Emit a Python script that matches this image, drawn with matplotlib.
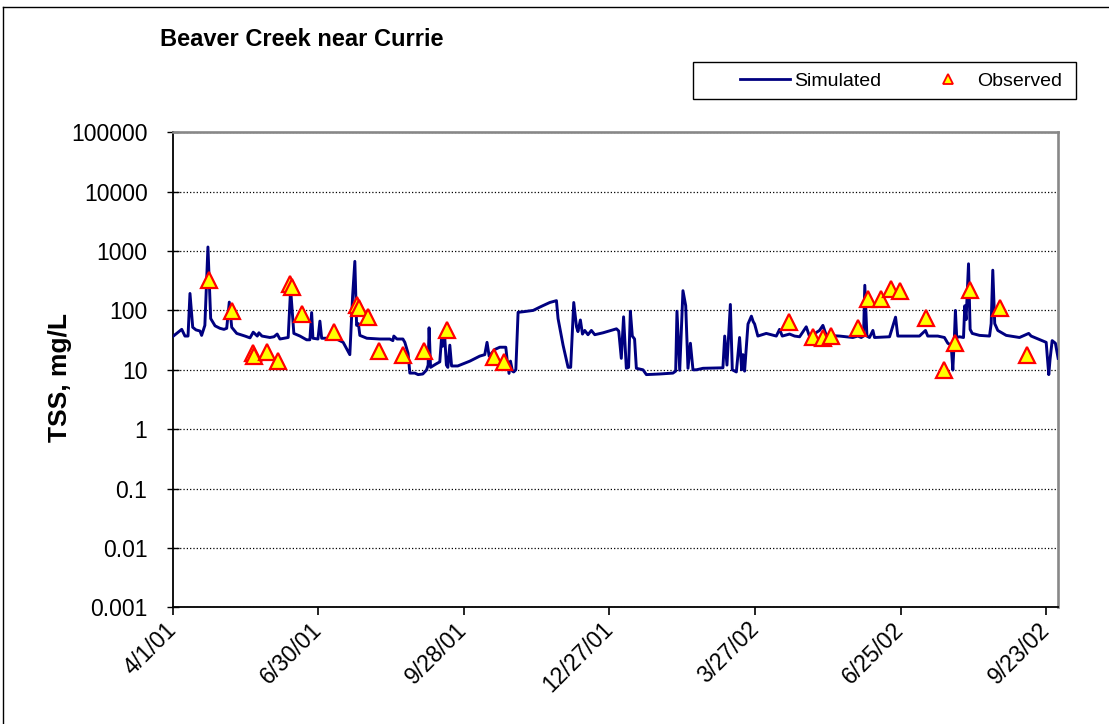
import matplotlib
matplotlib.use("Agg")
import matplotlib.pyplot as plt
from matplotlib.lines import Line2D
from matplotlib.patches import Rectangle
import pandas as pd

plt.rcParams['font.family'] = ['Liberation Sans', 'DejaVu Sans']

start = pd.Timestamp('2001-04-01')
end = pd.Timestamp('2002-09-30')

# simulated TSS (day offset from 4/1/01, mg/L)
sim_days = [0, 5.7, 7.7, 9.6, 10.8, 12.5, 14.5, 17, 18, 20, 21.9, 23.6, 26.3, 29.3, 31.8,
            33.5, 35.1, 36.6, 39.7, 44.8, 47.9, 49.9, 52.4, 53.4, 55.3, 60.2, 62.7, 64.7,
            66.4, 71.5, 73, 75, 78.8, 82.9, 84.9, 86, 86.8, 89.9, 91.1, 92.2, 100.4, 105.5,
            109.6, 111.3, 112.7, 113.8, 114.9, 115.8, 120.1, 128.1, 134.3, 136.2, 136.8,
            138.7, 142.4, 143.6, 145.6, 146.7, 149.8, 151.8, 154.7, 157, 158, 158.6, 159.5,
            162.8, 165.2, 166.3, 167, 168.3, 169.3, 170.2, 171.4, 172.5, 176.3, 183.8,
            189.9, 193, 194.4, 195.7, 199.2, 202.3, 206, 206.8, 208, 208.9, 210.1, 210.9,
            212.2, 213.6, 216.7, 222.9, 228, 233.2, 237.3, 238.3, 241.4, 244.5, 246.1, 248,
            249.7, 250.6, 252.1, 253.4, 254.8, 256.8, 258.9, 261, 266.1, 274.4, 275.8,
            277.4, 278.8, 280.5, 281.9, 283, 284.2, 285.6, 286.7, 290.8, 292.9, 301.1,
            309.3, 311, 311.8, 313.5, 315.5, 317.2, 318.6, 320.1, 321.7, 323.8, 327.9,
            340.2, 341.3, 342.7, 344.8, 346, 348.5, 350.5, 351.8, 352.6, 353.6, 355.7,
            357.8, 358.9, 359.8, 361.8, 367, 373.2, 375.2, 376.9, 381.4, 384.5, 387.6,
            391.7, 393.8, 399.9, 402, 404.1, 412.3, 420.5, 423.6, 425.7, 427.1, 427.9,
            429.2, 430.8, 432.9, 433.9, 443.2, 445.6, 446.9, 448.3, 461.7, 465.4, 466.8,
            473, 477.1, 479.2, 481.3, 482.3, 483.3, 483.9, 484.7, 486.4, 488.9, 489.7,
            490.5, 492, 493, 494.3, 498.8, 505, 506, 507, 508.2, 510.1, 515.3, 523.5,
            529.2, 530.7, 540, 541.6, 542.4, 543.7, 545.7, 547.4]
sim_tss = [36, 48, 37, 37, 193, 52, 47, 45, 38, 56, 1170, 73, 55, 50, 48,
           50, 138, 52, 41, 37, 34.5, 43, 37, 42, 37, 35, 36, 40,
           33, 35, 230, 41, 37, 32, 32, 92, 34, 33, 66, 34, 34, 29,
           18, 170, 670, 56, 60, 38, 34, 33, 33, 31, 37,
           33, 33, 29, 19, 8.8, 8.8, 8.3, 8.5, 9.9, 12, 51, 11,
           12.5, 13.6, 34.7, 25, 34, 12, 11, 26, 11.6, 11.6, 14,
           17, 18, 29, 17, 22, 24, 24, 15, 8.7, 14, 9.5, 9.2,
           10, 93, 95, 100, 117, 136, 146, 73, 26, 11, 11, 136,
           53, 44, 69, 40, 46, 39, 46, 39, 42, 49, 45,
           15.6, 78, 10.6, 11, 97, 37, 33, 10.6, 10, 8.3, 8.5,
           8.8, 9.5, 97, 9.8, 215, 120, 10.6, 28, 10, 10, 10.6,
           10.8, 37, 12, 126, 10, 9.2, 35, 10, 18, 9.5, 59,
           80, 65, 59, 37, 41, 37, 48, 37, 40, 37, 36,
           53, 36, 46, 56, 38, 37, 35, 37, 35, 37, 265,
           37, 35, 46, 35, 36, 59, 77, 37, 37, 46, 37,
           37, 35, 28, 26, 9.9, 37, 100, 35, 36, 35, 120,
           70, 610, 48, 41, 38, 37, 60, 476, 60, 46, 38, 35,
           41, 37, 29, 8.3, 15, 31, 28, 15.6]

# observed TSS samples
obs_days = [22.5, 36.8, 49.7, 50.6, 58.6, 65.3, 72.9, 73.9, 79.8, 99.8, 114.3, 115.3,
            120.6, 127.7, 142.6, 155.5, 169.7, 198.6, 204.9, 380.8, 395.8, 402, 407,
            424, 429.8, 437.6, 444.2, 449.8, 465.8, 476.7, 483.9, 493, 511.7, 528]
obs_tss = [321, 97, 19, 17, 20, 13.9, 275, 250, 87, 43.5, 122, 112,
           78, 21, 17.5, 21, 46, 16.2, 13.6, 63, 35, 34.6, 37.5,
           51, 157, 157, 233, 213, 76, 10, 28, 222, 108, 17.6]

y_ticks = [0.001, 0.01, 0.1, 1, 10, 100, 1000, 10000, 100000]
y_labels = ['0.001', '0.01', '0.1', '1', '10', '100', '1000', '10000', '100000']
x_ticks = pd.date_range(start, periods=7, freq='90D')

sim_x = start + pd.to_timedelta(sim_days, unit='D')
obs_x = start + pd.to_timedelta(obs_days, unit='D')

fig = plt.figure(figsize=(11.09, 7.24), dpi=100)
ax = fig.add_axes([172.5 / 1109, 1 - 607.3 / 724, 885 / 1109, 475 / 724])

ax.plot(sim_x, sim_tss, color='#000080', lw=2.1, zorder=3)
ax.plot(obs_x, obs_tss, ls='none', marker='^', ms=11.5, mfc='#ffff00', mec='#ff0000',
        mew=1.6, zorder=4)

ax.set_yscale('log')
ax.set_ylim(0.001, 100000)
ax.set_yticks(y_ticks)
ax.set_yticklabels(y_labels)
ax.yaxis.set_minor_locator(matplotlib.ticker.NullLocator())
ax.set_xlim(start, end)
ax.set_xticks(x_ticks)
ax.set_xticklabels([f"{d.month}/{d.day}/{d.strftime('%y')}" for d in x_ticks])
ax.xaxis.set_minor_locator(matplotlib.ticker.NullLocator())

ax.grid(axis='y', color='black', ls=':', lw=0.9)
ax.tick_params(axis='y', direction='inout', length=8, width=1, labelsize=16.5, pad=14)
ax.tick_params(axis='x', direction='out', length=5.5, width=1.2, labelsize=16.5, pad=8)
for lab in ax.get_xticklabels():
    lab.set_rotation(45)
    lab.set_ha('right')
    lab.set_va('center')
    lab.set_rotation_mode('anchor')

for s in ('left', 'bottom'):
    ax.spines[s].set_color('black')
    ax.spines[s].set_linewidth(1.3)
for s in ('top', 'right'):
    ax.spines[s].set_color('#888888')
    ax.spines[s].set_linewidth(1.9)

fig.text(160 / 1109, 1 - 40 / 724, 'Beaver Creek near Currie', fontsize=17,
         fontweight='bold', ha='left', va='center')
fig.text(60 / 1109, 1 - 377 / 724, 'TSS, mg/L', fontsize=19, fontweight='bold',
         rotation=90, ha='center', va='center')

# legend box
fig.patches.append(Rectangle((693 / 1109, 1 - 99 / 724), 383 / 1109, 37 / 724,
                             transform=fig.transFigure, fill=False, ec='black', lw=1))
handles = [Line2D([], [], color='#000080', lw=2),
           Line2D([], [], ls='none', marker='^', ms=7, mfc='#ffff00', mec='#ff0000', mew=1.3)]
fig.legend(handles, ['Simulated', 'Observed'], loc='center left',
           bbox_to_anchor=(740 / 1109, 1 - 81 / 724), ncol=2, frameon=False,
           fontsize=14, handlelength=2.57, handletextpad=0.2, columnspacing=2.15,
           borderpad=0, borderaxespad=0)

# chart area border
fig.add_artist(Line2D([3 / 1109, 3 / 1109], [0, 1 - 7 / 724], transform=fig.transFigure,
                      color='black', lw=1))
fig.add_artist(Line2D([3 / 1109, 1], [1 - 7 / 724, 1 - 7 / 724], transform=fig.transFigure,
                      color='black', lw=1))

fig.savefig('out.png', dpi=100)
